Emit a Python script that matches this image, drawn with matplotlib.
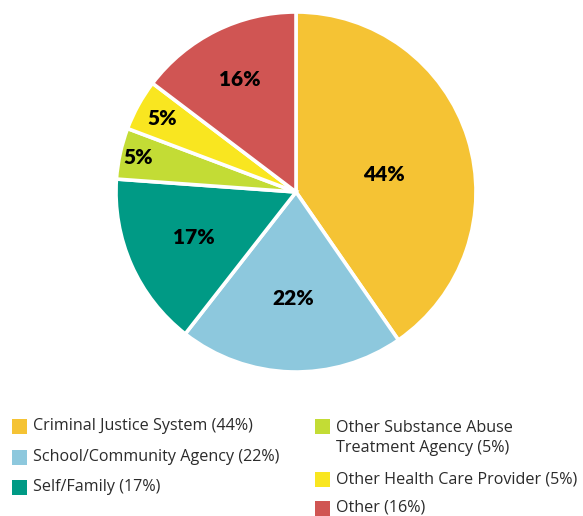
import matplotlib.pyplot as plt
from matplotlib.patches import Rectangle
import numpy as np

# Referral sources, share in percent
categories = ["Criminal Justice System", "School/Community Agency", "Self/Family",
              "Other Substance Abuse\nTreatment Agency", "Other Health Care Provider", "Other"]
values = [44, 22, 17, 5, 5, 16]
colors = ["#F5C334", "#8DC8DD", "#009A85", "#C3DC35", "#F9E620", "#D05553"]

W, H = 583, 516
fig = plt.figure(figsize=(W / 100, H / 100), dpi=100)

# pie axes: center (296, 192) px, radius 180 px
cx, cy, r = 296, 192, 180
ax = fig.add_axes([(cx - r) / W, (H - cy - r) / H, 2 * r / W, 2 * r / H])
wedges, _ = ax.pie(values, colors=colors, startangle=90, counterclock=False,
                   radius=1, wedgeprops=dict(edgecolor="white", linewidth=2.6))
ax.set_xlim(-1, 1)
ax.set_ylim(-1, 1)
ax.set_aspect("equal")
ax.axis("off")

# label distance from center per slice
label_r = [0.5, 0.59, 0.62, 0.9, 0.85, 0.70]
label_shift = [-6, 0, 0, 0, 0, 0]
for w, v, lr, sh in zip(wedges, values, label_r, label_shift):
    ang = np.deg2rad((w.theta1 + w.theta2) / 2 + sh)
    ax.text(lr * np.cos(ang), lr * np.sin(ang), f"{v}%", ha="center", va="center",
            fontsize=15, fontweight="heavy", family="Lato", color="black")

# legend drawn as squares + text in figure pixels
leg_pos = [(12, 426), (12, 457), (12, 487), (315, 426), (315, 479), (315, 508)]
for (x, y), cat, v, c in zip(leg_pos, categories, values, colors):
    fig.patches.append(Rectangle((x / W, (H - y - 7.5) / H), 15 / W, 15 / H,
                                 transform=fig.transFigure, facecolor=c, edgecolor="none"))
    ty = y
    if "\n" in cat:
        ty = y + 12
    fig.text((x + 21) / W, (H - ty) / H, f"{cat} ({v}%)", ha="left", va="center",
             fontsize=11.6, family="Open Sans", color="#2b2b2b", linespacing=1.35)

fig.savefig("out.png", dpi=100)
